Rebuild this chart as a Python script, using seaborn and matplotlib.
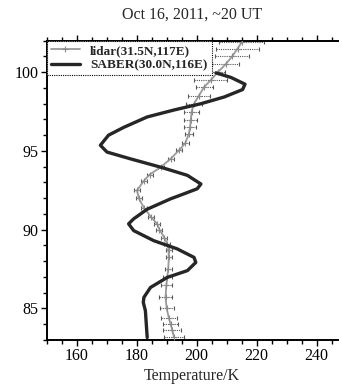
import numpy as np
import matplotlib
matplotlib.use("Agg")
import matplotlib.pyplot as plt
from matplotlib.ticker import MultipleLocator
import seaborn as sns

# lidar profile (altitude km, temperature K, half error K)
lidar_alt = [83.2, 83.6, 84.0, 84.4, 85.0, 85.7, 86.5, 87.0, 87.5, 88.24, 88.7, 89.1,
             89.5, 90.0, 90.37, 90.8, 91.4, 92.0, 92.5, 93.1, 93.5, 93.97, 94.5, 95.04,
             95.5, 96.1, 96.5, 96.95, 97.5, 98.0, 98.5, 99.07, 99.5, 100.0, 100.5, 101.0,
             101.5, 101.9]
lidar_temp = [192.4, 191.9, 191.3, 190.7, 190.0, 189.6, 189.9, 190.2, 190.5, 190.7, 190.6, 190.2,
              189.2, 187.6, 186.8, 184.8, 182.4, 180.7, 180.1, 182.4, 184.3, 188.0, 191.3, 194.1,
              196.2, 197.4, 197.8, 198.0, 198.3, 199.1, 200.7, 202.5, 204.7, 207.0, 209.6, 211.8,
              213.6, 215.0]
lidar_err = [3.4, 3.0, 2.6, 2.6, 2.3, 2.2, 1.8, 1.5, 1.2, 1.0, 1.0, 1.0,
             1.0, 1.0, 1.0, 1.0, 1.0, 1.0, 1.0, 1.0, 1.0, 1.0, 1.0, 1.0,
             1.2, 1.2, 2.0, 2.2, 2.5, 2.8, 3.6, 2.8, 5.5, 2.5, 4.5, 5.7,
             7.2, 7.5]

# SABER profile
saber_alt = [83.15, 84.0, 84.85, 85.38, 85.7, 86.33, 86.97, 87.4, 87.92, 88.24, 88.78, 89.3,
             89.94, 90.37, 90.69, 91.3, 91.96, 92.28, 92.6, 92.9, 93.45, 93.97, 94.5, 94.93,
             95.36, 96.0, 96.5, 97.16, 97.6, 98.0, 98.43, 98.9, 99.24, 99.67, 99.96]
saber_temp = [183.5, 183.2, 182.9, 182.2, 182.4, 184.6, 190.2, 196.9, 199.7, 199.1, 193.5, 185.7,
              179.0, 177.3, 179.0, 183.5, 191.3, 195.8, 200.2, 201.4, 196.9, 188.0, 177.9, 170.1,
              167.9, 170.6, 175.7, 183.5, 192.4, 201.4, 209.2, 215.3, 216.1, 211.4, 206.4]

sns.set_theme(style="ticks")
plt.rcParams['font.family'] = ['Liberation Serif', 'DejaVu Serif']

fig = plt.figure(figsize=(3.42, 3.88), dpi=100)
ax = fig.add_axes([0.1365, 0.124, 0.851, 0.771])

# lidar error bars
eb = ax.errorbar(lidar_temp, lidar_alt, xerr=lidar_err, fmt='none', ecolor='#555555',
                 elinewidth=0.8, capsize=1.5, capthick=0.8, zorder=2)
for lc in eb[2]:
    lc.set_linestyle((0, (1, 1)))

sns.lineplot(x=lidar_temp, y=lidar_alt, sort=False, estimator=None, ax=ax,
             color='#9a9a9a', linewidth=1.3, marker='+', markersize=4,
             markeredgecolor='#8a8a8a', markeredgewidth=0.8,
             label='lidar(31.5N,117E)', zorder=3)
sns.lineplot(x=saber_temp, y=saber_alt, sort=False, estimator=None, ax=ax,
             color='#262626', linewidth=2.4, label='SABER(30.0N,116E)', zorder=4)

ax.set_xlim(150, 247)
ax.set_ylim(83, 102)
ax.xaxis.set_major_locator(MultipleLocator(20))
ax.xaxis.set_minor_locator(MultipleLocator(5))
ax.yaxis.set_major_locator(MultipleLocator(5))
ax.yaxis.set_minor_locator(MultipleLocator(1))
ax.tick_params(which='both', direction='out', top=True, right=False, labelsize=11.5,
               width=1.0, colors='black', pad=2)
ax.tick_params(which='major', length=4)
ax.tick_params(which='minor', length=3)
for s in ['left', 'bottom', 'top']:
    ax.spines[s].set_linewidth(1.4)
    ax.spines[s].set_color('black')
ax.spines['right'].set_visible(False)

ax.set_xlabel('Temperature/K', fontsize=11.5, labelpad=3)
ax.set_ylabel('')
ax.set_title('Oct 16, 2011, ~20 UT', fontsize=11.5, pad=16)

leg = ax.legend(loc='upper left', bbox_to_anchor=(0, 1), borderaxespad=0, fancybox=False,
                prop={'family': 'Liberation Serif', 'weight': 'bold', 'size': 9.5},
                handlelength=2.2, handletextpad=0.8, borderpad=0.3, labelspacing=0.15,
                framealpha=1)
leg.get_frame().set_edgecolor('black')
leg.get_frame().set_linestyle((0, (1, 1)))
leg.get_frame().set_linewidth(0.8)

fig.savefig('out.png', dpi=100)
